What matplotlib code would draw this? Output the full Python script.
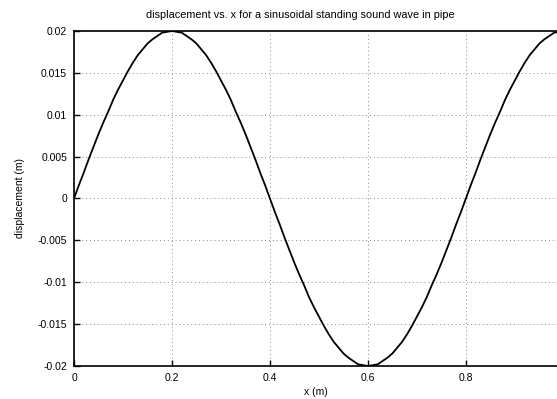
import numpy as np
import matplotlib
matplotlib.use("Agg")
import matplotlib.pyplot as plt

# values, every 0.01 m
x_m = [round(0.01 * i, 2) for i in range(101)]
disp_m = [
    0.0, 0.0016, 0.0031, 0.0047, 0.0062, 0.0077, 0.0091, 0.0104, 0.0118, 0.0130,
    0.0141, 0.0152, 0.0162, 0.0171, 0.0178, 0.0185, 0.0190, 0.0194, 0.0198, 0.0199,
    0.0200, 0.0199, 0.0198, 0.0194, 0.0190, 0.0185, 0.0178, 0.0171, 0.0162, 0.0152,
    0.0141, 0.0130, 0.0118, 0.0104, 0.0091, 0.0077, 0.0062, 0.0047, 0.0031, 0.0016,
    0.0, -0.0016, -0.0031, -0.0047, -0.0062, -0.0077, -0.0091, -0.0104, -0.0118, -0.0130,
    -0.0141, -0.0152, -0.0162, -0.0171, -0.0178, -0.0185, -0.0190, -0.0194, -0.0198, -0.0199,
    -0.0200, -0.0199, -0.0198, -0.0194, -0.0190, -0.0185, -0.0178, -0.0171, -0.0162, -0.0152,
    -0.0141, -0.0130, -0.0118, -0.0104, -0.0091, -0.0077, -0.0062, -0.0047, -0.0031, -0.0016,
    0.0, 0.0016, 0.0031, 0.0047, 0.0062, 0.0077, 0.0091, 0.0104, 0.0118, 0.0130,
    0.0141, 0.0152, 0.0162, 0.0171, 0.0178, 0.0185, 0.0190, 0.0194, 0.0198, 0.0199,
    0.0200,
]

xticks = [0, 0.2, 0.4, 0.6, 0.8]
xtick_labels = ["0", "0.2", "0.4", "0.6", "0.8"]
yticks = [-0.02, -0.015, -0.01, -0.005, 0, 0.005, 0.01, 0.015, 0.02]
ytick_labels = ["-0.02", "-0.015", "-0.01", "-0.005", "0", "0.005", "0.01", "0.015", "0.02"]

plt.rcParams["font.family"] = ["Liberation Sans", "DejaVu Sans"]

fig = plt.figure(figsize=(5.57, 3.99), dpi=100)
ax = fig.add_axes([74 / 557, 1 - 366 / 399, 1 - 74 / 557, (366 - 31) / 399])

ax.plot(x_m, disp_m, color="black", lw=1.3)
ax.set_xlim(0, 0.986)
ax.set_ylim(-0.02, 0.02)
ax.set_xticks(xticks)
ax.set_xticklabels(xtick_labels)
ax.set_yticks(yticks)
ax.set_yticklabels(ytick_labels)
ax.tick_params(direction="in", length=4, width=1, labelsize=7.5, pad=5)
ax.grid(True, linestyle=(0, (1, 3)), color="#888888", lw=0.7)
ax.spines["right"].set_visible(False)
for s in ["left", "top", "bottom"]:
    ax.spines[s].set_linewidth(1.2)

# title is centred on the uncropped plot, a bit left of this axes' centre
fig.text(300 / 557, 1 - 15 / 399, "displacement vs. x for a sinusoidal standing sound wave in pipe",
         fontsize=7.8, ha="center", va="center")
ax.set_xlabel("x (m)", fontsize=7.5, labelpad=3)
ax.set_ylabel("displacement (m)", fontsize=7.5, labelpad=9)

fig.savefig("out.png", dpi=100)
